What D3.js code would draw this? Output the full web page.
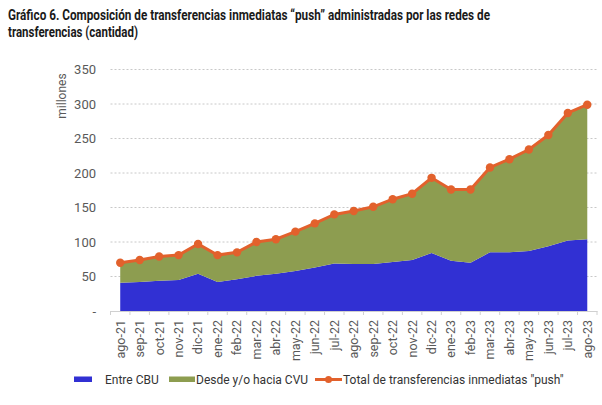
<!DOCTYPE html>
<html>
<head>
<meta charset="utf-8">
<script src="https://cdn.jsdelivr.net/npm/d3@7"></script>
<style>
  body { margin: 0; background: #fff; }
  svg { display: block; }
</style>
</head>
<body>
<svg id="chart" width="602" height="405"></svg>
<script>
const categories = ["ago-21","sep-21","oct-21","nov-21","dic-21","ene-22","feb-22","mar-22","abr-22","may-22","jun-22","jul-22","ago-22","sep-22","oct-22","nov-22","dic-22","ene-23","feb-23","mar-23","abr-23","may-23","jun-23","jul-23","ago-23"];
const entreCBU = [41,42,44,45,54,42,46,51,54,58,63,69,68,68,71,74,84,73,70,85,85,87,94,102,104];
const total = [70,74,79,81,97,81,85,100,104,115,127,140,145,151,162,170,193,176,176,208,220,234,255,287,299];
const desdeCVU = total.map((t, i) => t - entreCBU[i]);
const yTicks = [0,50,100,150,200,250,300,350];
const yTickLabels = ["-","50","100","150","200","250","300","350"];

const colors = { cbu: "#3130d3", cvu: "#8d9d50", total: "#e2612c" };

const svg = d3.select("#chart");
const font = "Roboto, 'Liberation Sans', sans-serif";

// Title
const title = svg.append("g").attr("font-family", font).attr("font-weight", "bold").attr("font-size", 14).attr("fill", "#1a1a1a");
title.append("text").attr("x", 8).attr("y", 20)
  .attr("textLength", 482).attr("lengthAdjust", "spacingAndGlyphs")
  .text("Gráfico 6. Composición de transferencias inmediatas “push” administradas por las redes de");
title.append("text").attr("x", 8).attr("y", 37)
  .attr("textLength", 130).attr("lengthAdjust", "spacingAndGlyphs")
  .text("transferencias (cantidad)");

const x = d3.scaleBand().domain(categories).range([110.5, 597]).paddingInner(0).paddingOuter(0);
const cx = c => x(c) + x.bandwidth() / 2;
const y = d3.scaleLinear().domain([0, 350]).range([311, 69.5]);

// gridlines
svg.append("g").selectAll("line").data(yTicks.filter(d => d > 0)).join("line")
  .attr("x1", 110.5).attr("x2", 597)
  .attr("y1", d => y(d)).attr("y2", d => y(d))
  .attr("stroke", "#c8c8c8").attr("stroke-width", 1).attr("stroke-dasharray", "2,2");

// stacked areas
const rows = categories.map((c, i) => ({ c, cbu: entreCBU[i], cvu: desdeCVU[i] }));
const stack = d3.stack().keys(["cbu", "cvu"])(rows);
const area = d3.area().x(d => cx(d.data.c)).y0(d => y(d[0])).y1(d => y(d[1]));
svg.append("g").selectAll("path").data(stack).join("path")
  .attr("d", area)
  .attr("fill", d => colors[d.key]);

// y axis labels
const yAxis = d3.axisLeft(y).tickValues(yTicks).tickSize(0).tickPadding(0)
  .tickFormat((d, i) => yTickLabels[i]);
const yg = svg.append("g").attr("transform", "translate(96,0)").call(yAxis);
yg.select(".domain").remove();
yg.selectAll("text").attr("font-family", font).attr("font-size", 13).attr("fill", "#595959");

// millones
svg.append("text").attr("transform", "translate(66,96) rotate(-90)")
  .attr("text-anchor", "middle").attr("font-family", font).attr("font-size", 12).attr("fill", "#595959")
  .text("millones");

// x axis
const xAxis = d3.axisBottom(x).tickSize(0).tickSizeOuter(0);
const xg = svg.append("g").attr("transform", "translate(0,311)").call(xAxis);
xg.select(".domain").attr("stroke", "#d0d0d0");
xg.selectAll(".tick text")
  .attr("font-family", font).attr("font-size", 12.5).attr("fill", "#595959")
  .attr("text-anchor", "end")
  .attr("transform", "rotate(-90)")
  .attr("x", -9).attr("y", 0).attr("dy", "0.35em");
// boundary ticks
const bounds = categories.map(c => x(c)).concat([x(categories[categories.length - 1]) + x.bandwidth()]);
svg.append("g").selectAll("line").data(bounds).join("line")
  .attr("x1", d => d).attr("x2", d => d).attr("y1", 311).attr("y2", 315)
  .attr("stroke", "#d0d0d0");

// total line
const line = d3.line().x((d, i) => cx(categories[i])).y(d => y(d));
svg.append("path").datum(total).attr("d", line)
  .attr("fill", "none").attr("stroke", colors.total).attr("stroke-width", 3);
svg.append("g").selectAll("circle").data(total).join("circle")
  .attr("cx", (d, i) => cx(categories[i])).attr("cy", d => y(d)).attr("r", 4.2)
  .attr("fill", colors.total);

// legend
const lg = svg.append("g").attr("font-family", font).attr("font-size", 12).attr("fill", "#333");
lg.append("rect").attr("x", 74).attr("y", 376.5).attr("width", 18).attr("height", 5.5).attr("fill", colors.cbu);
lg.append("text").attr("x", 105).attr("y", 384).text("Entre CBU");
lg.append("rect").attr("x", 169).attr("y", 376.5).attr("width", 26).attr("height", 5.5).attr("fill", colors.cvu);
lg.append("text").attr("x", 196).attr("y", 384).text("Desde y/o hacia CVU");
lg.append("line").attr("x1", 315).attr("x2", 342).attr("y1", 379.5).attr("y2", 379.5)
  .attr("stroke", colors.total).attr("stroke-width", 3);
lg.append("circle").attr("cx", 328.5).attr("cy", 379.5).attr("r", 3.5).attr("fill", colors.total);
lg.append("text").attr("x", 343).attr("y", 384).text("Total de transferencias inmediatas \"push\"");
</script>
</body>
</html>
